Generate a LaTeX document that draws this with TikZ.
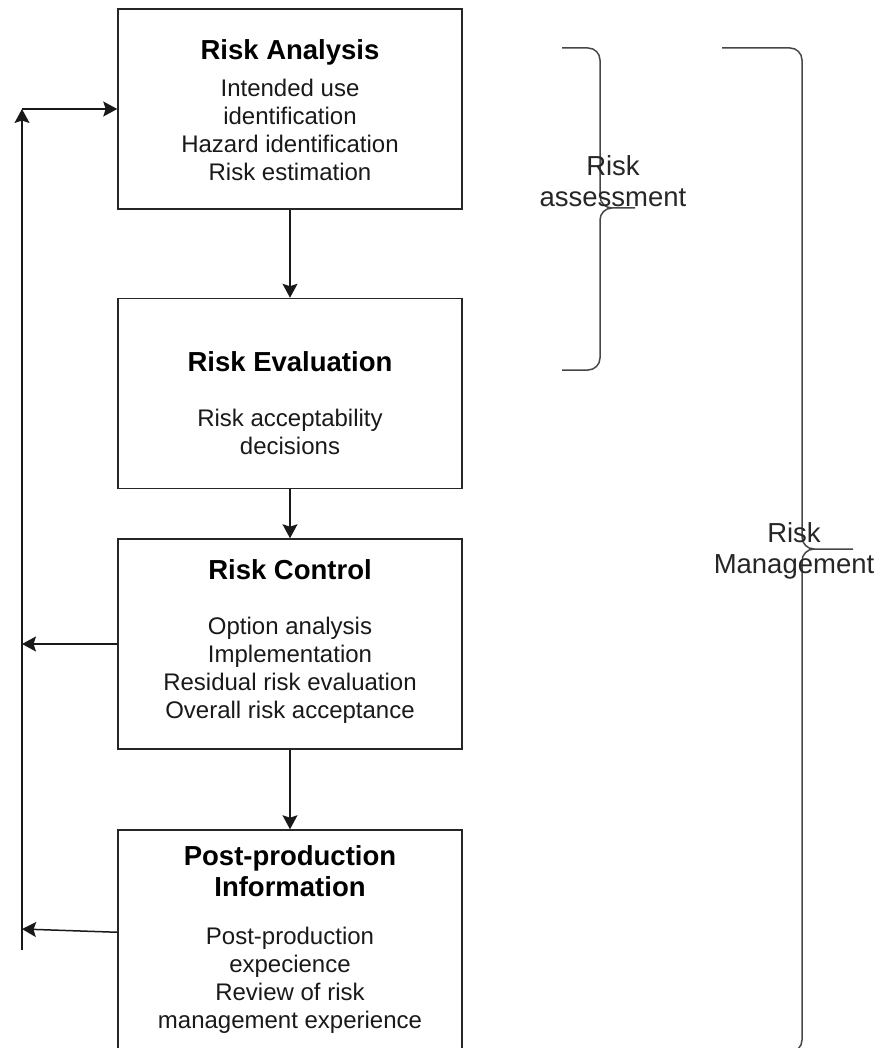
\documentclass[tikz,border=0pt]{standalone}
\usepackage{fontspec}
\setmainfont{Liberation Sans}
\usetikzlibrary{arrows.meta,calc}

\begin{document}
\begin{tikzpicture}[x=1pt,y=-1pt,
  box/.style={draw=black!85, line width=1.5pt, minimum width=344pt, inner sep=0pt},
  boxtitle/.style={font=\bfseries\fontsize{27.5}{31}\selectfont, align=center, inner sep=0pt, text=black},
  boxbody/.style={font=\fontsize{24}{28}\selectfont, align=center, inner sep=0pt, text=black!90},
  sidelabel/.style={font=\fontsize{27.5}{31}\selectfont, align=center, inner sep=0pt, text=black!85},
  link/.style={line width=1.5pt, draw=black!90, -{Stealth[length=14pt,width=15pt,inset=2.5pt]}},
  bracket/.style={draw=black!72, line width=1.5pt, rounded corners=12pt}]
\useasboundingbox (0,0) rectangle (884,1048);
\clip (0,0) rectangle (884,1048);

% process boxes
\node[box, minimum height=200pt] (ra) at (290,109) {};
\node[box, minimum height=190pt] (re) at (290,393.5) {};
\node[box, minimum height=210pt] (rc) at (290,644) {};
\node[box, minimum height=280pt] (pp) at (290,970) {};

% box contents
\node[boxtitle] (raT) at (290,52) {Risk Analysis};
\node[boxbody]  (raB) at (290,129.5) {Intended use\\identification\\Hazard identification\\Risk estimation};
\node[boxtitle] (reT) at (290,362) {Risk Evaluation};
\node[boxbody]  (reB) at (290,432) {Risk acceptability\\decisions};
\node[boxtitle] (rcT) at (290,570) {Risk Control};
\node[boxbody]  (rcB) at (290,670) {Option analysis\\Implementation\\Residual risk evaluation\\Overall risk acceptance};
\node[boxtitle] (ppT) at (290,871) {Post-production\\Information};
\node[boxbody]  (ppB) at (290,980) {Post-production\\expecience\\Review of risk\\management experience};

% main flow
\draw[link] (ra.south) -- (re.north);
\draw[link] (re.south) -- (rc.north);
\draw[link] (rc.south) -- (pp.north);

% feedback loop on the left
\coordinate (loopbot) at (22,950);
\coordinate (looptop) at (22,109);
\coordinate (ppout) at ($(pp.north west)+(0,103)$);
\coordinate (ppin) at (22,929);
\draw[link] (loopbot) -- (looptop);
\draw[link] (looptop) -- (ra.west);
\draw[link] (rc.west) -- (rc.west -| looptop);
\draw[link] (ppout) -- (ppin);

% risk assessment bracket
\draw[bracket] (562,48) -- (600,48) -- (600,208) -- (635,208);
\draw[bracket] (562,370) -- (600,370) -- (600,208) -- (612,208);
\node[sidelabel] (assess) at (613,181) {Risk\\assessment};

% risk management bracket
\draw[bracket] (722,48) -- (802,48) -- (802,549) -- (853,549);
\draw[bracket] (722,1052) -- (802,1052) -- (802,549) -- (814,549);
\node[sidelabel] (mgmt) at (794,551) {Risk\\Management};
\end{tikzpicture}
\end{document}
